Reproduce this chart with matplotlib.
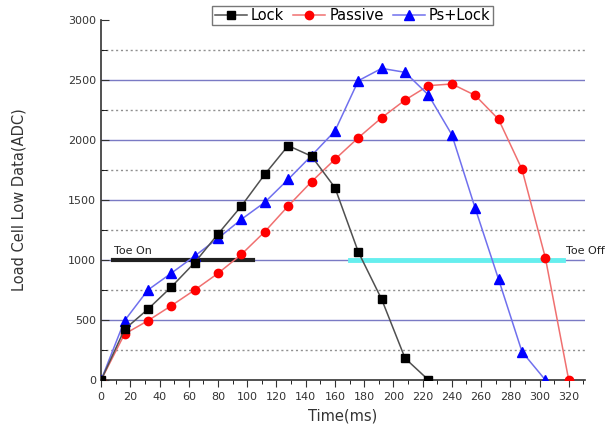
import numpy as np
import matplotlib.pyplot as plt
from matplotlib.ticker import MultipleLocator

# data
t_lock = [0, 16, 32, 48, 64, 80, 96, 112, 128, 144, 160, 176, 192, 208, 224]
lock = [0, 422, 590, 775, 978, 1217, 1450, 1714, 1953, 1865, 1603, 1067, 672, 181, 0]

t_pass = [0, 16, 32, 48, 64, 80, 96, 112, 128, 144, 160, 176, 192, 208, 224, 240, 256, 272, 288, 304, 320]
passive = [0, 383, 494, 619, 750, 889, 1047, 1236, 1450, 1653, 1839, 2019, 2186, 2333, 2453, 2467, 2372, 2172, 1756, 1019, 0]

t_ps = [0, 16, 32, 48, 64, 80, 96, 112, 128, 144, 160, 176, 192, 208, 224, 240, 256, 272, 288, 304]
ps_lock = [0, 494, 750, 890, 1033, 1181, 1339, 1481, 1672, 1870, 2075, 2494, 2597, 2564, 2375, 2044, 1431, 839, 236, 0]

toe_on = [8, 104]
toe_off = [170, 316]
toe_level = 1000

fig = plt.figure(figsize=(6.13, 4.33), dpi=100)
ax = fig.add_axes([0.165, 0.1224, 0.789, 0.8314])

# horizontal grid lines
for y in range(500, 3000, 500):
    ax.axhline(y, color='#7a7ac4', lw=1.0, zorder=1)
for y in range(250, 3000, 500):
    ax.axhline(y, color='#909090', lw=1.0, ls=(0, (1.5, 2)), zorder=1)

# toe on / toe off markers
ax.plot(toe_on, [toe_level, toe_level], color='#202020', lw=3, zorder=2)
ax.plot(toe_off, [toe_level, toe_level], color='#66eeee', lw=3.5, zorder=2)
ax.text(toe_on[0] + 1, toe_level + 35, 'Toe On', fontsize=8, color='#222222', va='bottom')
ax.text(toe_off[1] + 2, toe_level + 35, 'Toe Off', fontsize=8, color='#222222', va='bottom', clip_on=False)

ax.plot(t_lock, lock, color='#505050', lw=1.1, marker='s', ms=5.5, mfc='black', mec='black', label='Lock', zorder=4)
ax.plot(t_pass, passive, color='#f07070', lw=1.1, marker='o', ms=6, mfc='red', mec='red', label='Passive', zorder=3)
ax.plot(t_ps, ps_lock, color='#7070ee', lw=1.1, marker='^', ms=6.5, mfc='blue', mec='blue', label='Ps+Lock', zorder=3)

ax.set_xlim(0, 331)
ax.set_ylim(0, 3000)
ax.xaxis.set_major_locator(MultipleLocator(20))
ax.xaxis.set_minor_locator(MultipleLocator(10))
ax.yaxis.set_major_locator(MultipleLocator(500))
ax.yaxis.set_minor_locator(MultipleLocator(250))
ax.tick_params(axis='x', which='major', direction='out', length=5, labelsize=8, colors='#333333')
ax.tick_params(axis='x', which='minor', direction='out', length=3)
ax.tick_params(axis='y', which='major', direction='in', length=6, labelsize=8, colors='#333333')
ax.tick_params(axis='y', which='minor', direction='in', length=4)
for s in ['top', 'right']:
    ax.spines[s].set_visible(False)
for s in ['left', 'bottom']:
    ax.spines[s].set_color('#333333')
    ax.spines[s].set_linewidth(1.2)

ax.set_xlabel('Time(ms)', fontsize=10.5, color='#333333', labelpad=5)
ax.set_ylabel('Load Cell Low Data(ADC)', fontsize=10.5, color='#333333', labelpad=30)

ax.legend(loc='lower center', bbox_to_anchor=(0.52, 0.985), ncol=3, fontsize=10.5,
          frameon=True, fancybox=False, edgecolor='#555555', handlelength=2.2,
          handletextpad=0.3, columnspacing=0.6, borderpad=0.15, borderaxespad=0)

fig.savefig('out.png', dpi=100)
